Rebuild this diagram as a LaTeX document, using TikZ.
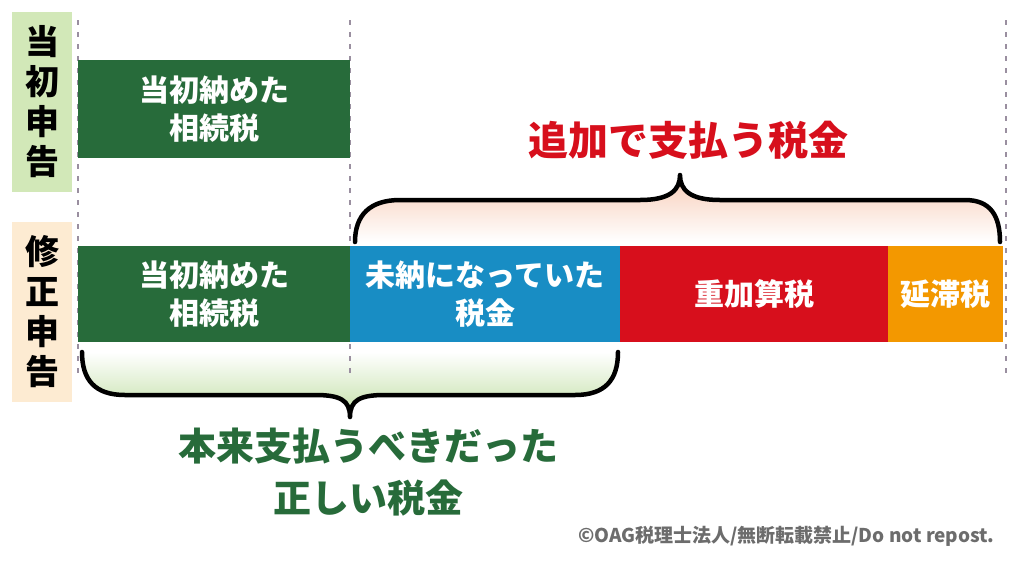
\documentclass[tikz,border=0pt]{standalone}
\usepackage{fontspec}
\newfontfamily\jp{Noto Sans CJK JP}[BoldFont={* Black}]
\definecolor{dg}{HTML}{276B3A}
\definecolor{bl}{HTML}{188DC4}
\definecolor{rd}{HTML}{D70F1C}
\definecolor{og}{HTML}{F39800}
\definecolor{lg}{HTML}{D2E8B8}
\definecolor{pc}{HTML}{FDEBD2}
\definecolor{gshade}{HTML}{C2DFA6}
\definecolor{pshade}{HTML}{F8CDB8}
\definecolor{dotc}{HTML}{9A8FA0}
\begin{document}
\begin{tikzpicture}[x=1pt,y=-1pt,font=\jp\bfseries,
  bx/.style={draw=none,inner sep=0,align=center,text=white,font=\jp\bfseries\fontsize{30}{38}\selectfont},
  dotl/.style={dotc,line width=2.5pt,dash pattern=on 5pt off 7pt},
  br/.style={line width=4.5pt,line cap=round,line join=round}]
\useasboundingbox (0,0) rectangle (1017,566);
\fill[white] (0,0) rectangle (1017,566);
% side labels
\fill[lg] (12,12) rectangle (72,192);
\fill[pc] (12,222) rectangle (72,402);
\node[font=\jp\bfseries\fontsize{34}{40}\selectfont,align=center] (l1) at (42,102) {当\\初\\申\\告};
\node[font=\jp\bfseries\fontsize{34}{40}\selectfont,align=center] (l2) at (42,312) {修\\正\\申\\告};
% braces fill
\shade[top color=pshade, bottom color=white]
 (355,242) .. controls (355,215) and (370,200) .. (400,200) -- (640,200) .. controls (670,200) and (680,190) .. (680,175) .. controls (680,190) and (690,200) .. (720,200) -- (965,200) .. controls (990,200) and (1000,215) .. (1000,242) -- cycle;
\shade[top color=white, bottom color=gshade]
 (82,352) .. controls (82,380) and (95,395) .. (125,395) -- (315,395) .. controls (340,395) and (350,400) .. (350,417) .. controls (350,400) and (360,395) .. (385,395) -- (575,395) .. controls (605,395) and (618,380) .. (618,352) -- cycle;
% dotted lines
\draw[dotl] (78,20) -- (78,378);
\draw[dotl] (350,20) -- (350,378);
\draw[dotl] (1006,20) -- (1006,378);
% boxes
\node[bx,fill=dg,minimum width=272pt,minimum height=98pt,anchor=north west] (a) at (78,60) {当初納めた\\相続税};
\node[bx,fill=dg,minimum width=272pt,minimum height=96pt,anchor=north west] (b) at (78,246) {当初納めた\\相続税};
\node[bx,fill=bl,minimum width=270pt,minimum height=96pt,anchor=north west] (c) at (350,246) {未納になっていた\\税金};
\node[bx,fill=rd,minimum width=268pt,minimum height=96pt,anchor=north west] (d) at (620,246) {重加算税};
\node[bx,fill=og,minimum width=115pt,minimum height=96pt,anchor=north west] (e) at (888,246) {延滞税};
% brace strokes
\draw[br] (355,242) .. controls (355,215) and (370,200) .. (400,200) -- (640,200) .. controls (670,200) and (680,190) .. (680,175) .. controls (680,190) and (690,200) .. (720,200) -- (965,200) .. controls (990,200) and (1000,215) .. (1000,242);
\draw[br] (82,352) .. controls (82,380) and (95,395) .. (125,395) -- (315,395) .. controls (340,395) and (350,400) .. (350,417) .. controls (350,400) and (360,395) .. (385,395) -- (575,395) .. controls (605,395) and (618,380) .. (618,352);
% titles
\node[text=rd,font=\jp\bfseries\fontsize{40}{46}\selectfont] (t1) at (688,140) {追加で支払う税金};
\node[text=dg,font=\jp\bfseries\fontsize{38}{52}\selectfont,align=center] (t2) at (368,472) {本来支払うべきだった\\正しい税金};
\node[text=gray!85!black,font=\jp\bfseries\fontsize{19}{22}\selectfont,anchor=east] (cp) at (998,536) {©OAG税理士法人/無断転載禁止/Do not repost.};
\end{tikzpicture}
\end{document}
